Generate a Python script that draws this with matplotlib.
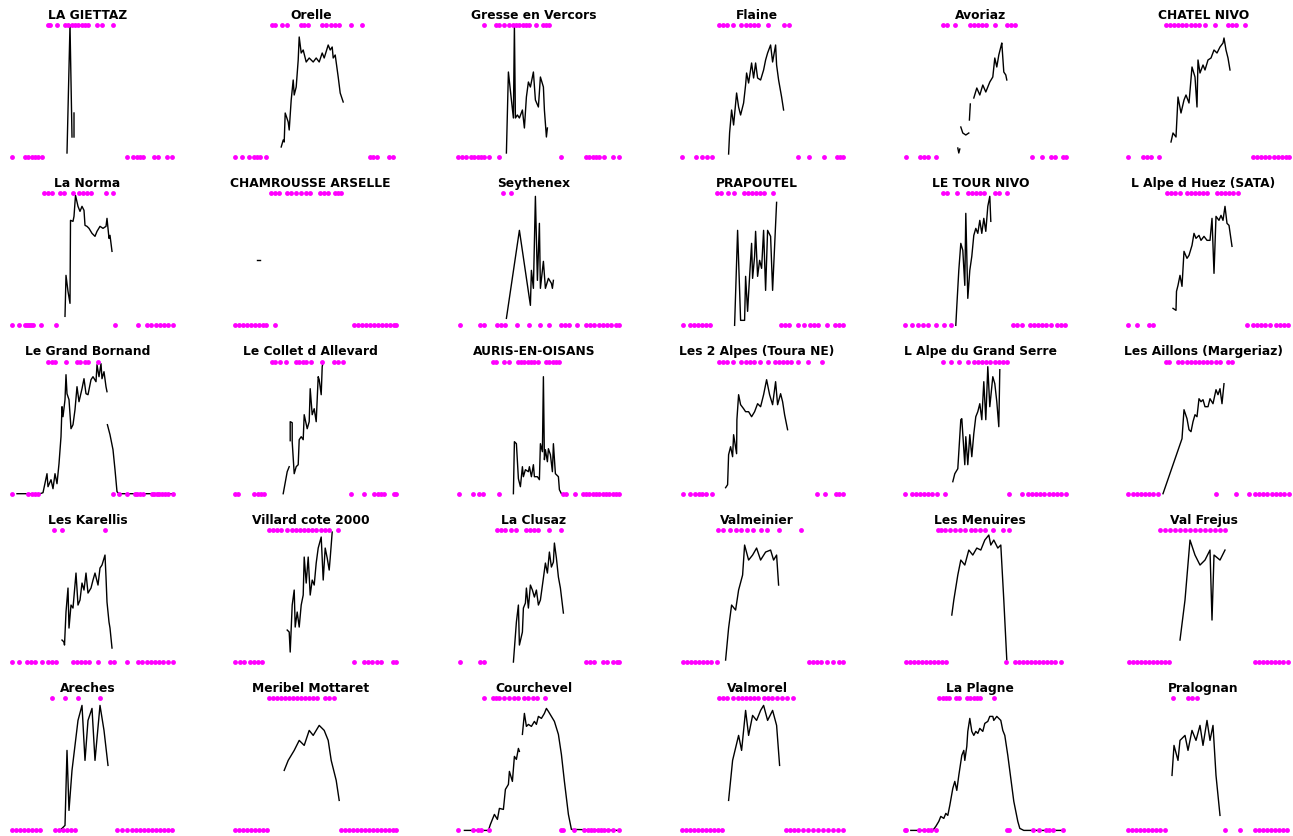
import numpy as np
import matplotlib
matplotlib.use("Agg")
import matplotlib.pyplot as plt

# Snow depth per station: day index in the season, depth value (None = missing),
# days flagged at the top (fall) and days flagged at zero (bare).
giettaz_days = [55, 58, 60, 61, 62, 62]
giettaz_depth = [4, 132, 20, None, 44, 20]
giettaz_fall = [36, 38, 45, 53, 56, 60, 63, 66, 70, 73, 76, 85, 90, 101]
giettaz_bare = [0, 13, 16, 20, 23, 26, 30, 115, 121, 125, 128, 131, 142, 146, 155, 160]

orelle_days = [46, 48, 49, 50, 53, 54, 56, 58, 59, 61, 63, 64, 66, 68, 71, 74, 78, 81, 84, 87, 89, 93, 95, 97, 98, 100, 103, 105, 108]
orelle_depth = [10, 17, 15, 44, 35, 27, 57, 77, 62, 70, 97, 120, 104, 107, 95, 99, 95, 99, 95, 104, 99, 112, 107, 110, 99, 102, 80, 64, 55]
orelle_fall = [37, 40, 47, 52, 66, 69, 73, 87, 91, 96, 100, 104, 116, 127]
orelle_bare = [0, 7, 14, 19, 22, 25, 31, 135, 138, 142, 154, 158]

gresse_days = [48, 50, 53, 55, 56, 57, 59, 61, 64, 66, 68, 70, 72, 75, 77, 80, 82, 85, 86, 88, 89]
gresse_depth = [4, 85, 57, 39, 132, 39, 42, 39, 47, 29, 60, 75, 70, 85, 57, 50, 80, 70, 47, 20, 29]
gresse_fall = [26, 38, 41, 46, 51, 55, 58, 61, 65, 68, 71, 78, 85, 88, 91]
gresse_bare = [0, 4, 8, 13, 16, 20, 23, 26, 31, 41, 103, 128, 131, 135, 138, 141, 146, 155, 161]

flaine_days = [47, 48, 50, 52, 55, 57, 59, 62, 64, 65, 67, 70, 72, 74, 76, 79, 82, 84, 86, 89, 91, 94, 95, 97, 100, 102]
flaine_depth = [3, 24, 47, 32, 64, 50, 42, 54, 72, 84, 74, 94, 79, 94, 79, 77, 87, 97, 104, 112, 95, 112, 92, 77, 60, 47]
flaine_fall = [37, 41, 45, 51, 59, 64, 68, 72, 76, 86, 102, 107]
flaine_bare = [0, 14, 20, 25, 30, 116, 127, 142, 155, 158, 161]

avoriaz_days = [53, 54, 55, 55.5, 56, 58, 61, 64, 64.3, 64.6, 65.5, 66, 69, 72, 75, 78, 81, 85, 88, 90, 92, 94, 96, 97, 99, 101, 102]
avoriaz_depth = [9, 4, 8, None, 30, 24, 22, 24, None, 37, 53, None, 59, 69, 62, 72, 65, 75, 80, 99, 90, 102, 110, 114, 85, 82, 77]
avoriaz_fall = [38, 42, 50, 65, 69, 73, 77, 81, 90, 102, 106, 110]
avoriaz_bare = [1, 15, 19, 23, 31, 127, 137, 146, 150, 158, 161]

chatel_days = [43, 45, 48, 50, 53, 56, 58, 61, 64, 67, 69, 70, 72, 75, 77, 80, 83, 86, 89, 92, 95, 96, 98, 100, 102]
chatel_depth = [15, 24, 20, 60, 44, 57, 62, 54, 90, 80, 50, 97, 84, 92, 87, 97, 99, 107, 104, 110, 114, 119, 107, 99, 87]
chatel_fall = [38, 42, 46, 50, 54, 58, 63, 67, 71, 77, 87, 100, 104, 108, 117]
chatel_bare = [0, 15, 19, 23, 31, 125, 129, 133, 137, 141, 146, 150, 154, 158, 161]

norma_days = [53, 54, 56, 58, 58.5, 61, 62, 63.5, 66, 68, 70, 72, 73, 75, 77, 80, 83, 85, 88, 91, 94, 95, 97, 98, 100]
norma_depth = [9, 50, 34, 22, 105, 104, 109, 130, 119, 114, 119, 115, 100, 99, 97, 92, 89, 94, 99, 97, 99, 107, 87, 90, 74]
norma_fall = [32, 36, 40, 48, 52, 61, 67, 71, 75, 79, 94, 101]
norma_bare = [0, 7, 13, 15, 17, 19, 21, 29, 44, 103, 126, 135, 139, 144, 148, 152, 156, 161]

chamrousse_days = [22, 25]
chamrousse_depth = [65, 65]
chamrousse_fall = [36, 40, 44, 52, 56, 61, 66, 71, 75, 85, 89, 93, 100, 103, 106]
chamrousse_bare = [0, 4, 8, 12, 16, 20, 24, 28, 31, 40, 119, 123, 127, 131, 135, 139, 143, 147, 151, 155, 159, 161]

seythenex_days = [48, 61, 72, 73, 75, 77, 79, 81, 82, 85, 87, 90, 93, 94, 95]
seythenex_depth = [7, 95, 20, 55, 37, 129, 45, 102, 37, 64, 37, 47, 42, 37, 45]
seythenex_fall = [45, 53]
seythenex_bare = [2, 22, 26, 39, 43, 47, 59, 71, 82, 91, 103, 107, 111, 119, 128, 132, 136, 141, 145, 149, 153, 158, 161]

prapoutel_days = [53, 56, 59, 63, 64, 66, 68, 70, 71, 73, 74, 76, 78, 80, 82, 84, 86, 89, 91, 95]
prapoutel_depth = [0, 95, 5, 5, 49, 14, 49, 82, 47, 69, 94, 49, 65, 57, 95, 35, 95, 89, 35, 123]
prapoutel_fall = [35, 39, 46, 52, 62, 66, 70, 74, 78, 82, 91]
prapoutel_bare = [1, 8, 12, 16, 20, 24, 28, 99, 103, 107, 116, 122, 128, 132, 136, 145, 153, 157, 161]

tour_days = [51, 52, 54, 56, 58, 60, 61, 63, 65, 67, 69, 71, 73, 75, 77, 79, 81, 83, 85, 86]
tour_depth = [0, 19, 55, 82, 75, 40, 112, 27, 55, 69, 90, 97, 92, 105, 92, 107, 94, 119, 129, 104]
tour_fall = [38, 42, 52, 63, 67, 71, 75, 79, 90, 94, 102]
tour_bare = [0, 7, 13, 18, 23, 31, 39, 46, 108, 112, 117, 125, 129, 133, 137, 141, 146, 152, 156, 160]

huez_days = [45, 48, 48.5, 50, 52, 54, 56, 59, 61, 64, 66, 68, 71, 73, 76, 79, 82, 84, 86, 88, 91, 93, 95, 97, 99, 101, 104]
huez_depth = [17, 15, 34, 40, 50, 39, 74, 67, 70, 80, 92, 87, 90, 85, 89, 85, 85, 107, 52, 109, 105, 110, 105, 119, 102, 100, 79]
huez_fall = [39, 43, 47, 52, 59, 63, 67, 71, 75, 79, 89, 93, 97, 101, 105, 110]
huez_bare = [0, 9, 21, 25, 119, 125, 129, 133, 137, 142, 148, 152, 156, 160]

bornand_days = [5, 28, 31, 35, 36, 39, 41, 43, 45, 47, 49, 50, 51, 53, 54, 55, 57, 59, 61, 63, 65, 67, 70, 72, 74, 76, 79, 81, 84, 85, 87, 89, 90, 92, 94, 95, 95.2, 95.4, 98, 101, 103, 105, 107, 161]
bornand_depth = [0, 0, 1, 20, 7, 14, 5, 20, 10, 30, 57, 87, 77, 94, 119, 100, 94, 65, 69, 84, 107, 92, 105, 115, 100, 99, 114, 117, 112, 129, 117, 130, 115, 122, 107, 102, None, 69, 59, 44, 24, 2, 0, 0]
bornand_fall = [36, 40, 43, 54, 65, 68, 73, 76, 86]
bornand_bare = [0, 16, 20, 23, 26, 101, 107, 115, 123, 125, 128, 131, 140, 142, 145, 147, 150, 153, 156, 161]

collet_days = [48, 52, 54, 54.5, 55, 55, 57, 57, 59, 61, 63, 64, 66, 68, 69, 72, 74, 75, 77, 79, 81, 83, 84, 86, 87, 88]
collet_depth = [0, 22, 27, None, 53, 72, 71, 52, 20, 27, 29, 54, 57, 54, 79, 65, 72, 105, 79, 85, 72, 117, 114, 99, 127, 132]
collet_fall = [37, 40, 45, 51, 61, 64, 68, 71, 76, 87, 99, 103, 108]
collet_bare = [0, 3, 19, 23, 26, 29, 116, 129, 139, 143, 146, 149, 159, 161]

auris_days = [55, 56, 58, 60, 62, 64, 65, 67, 70, 71, 73, 75, 76, 79, 81, 82, 84, 85, 86, 87, 89, 90, 92, 94, 95, 97, 100, 101, 103]
auris_depth = [0, 52, 50, 15, 7, 27, 17, 24, 22, 27, 17, 29, 17, 17, 14, 50, 42, 117, 34, 44, 32, 45, 39, 22, 50, 20, 17, 4, 0]
auris_fall = [35, 38, 46, 51, 60, 63, 66, 70, 73, 76, 80, 88, 91, 95, 98, 101]
auris_bare = [1, 15, 21, 25, 41, 105, 108, 117, 125, 128, 131, 135, 138, 141, 145, 148, 151, 155, 158, 161]

alpes2_days = [44, 46, 47, 49, 51, 52, 55, 55.3, 57, 59, 62, 64, 67, 70, 73, 76, 79, 82, 85, 88, 91, 94, 96, 99, 101, 103, 106]
alpes2_depth = [6, 9, 39, 47, 37, 59, 40, 74, 99, 89, 85, 82, 82, 77, 82, 90, 87, 99, 114, 99, 89, 112, 89, 100, 92, 79, 64]
alpes2_fall = [37, 41, 45, 51, 59, 64, 68, 72, 78, 86, 93, 97, 101, 105, 109, 116, 126, 140]
alpes2_bare = [1, 8, 13, 17, 20, 24, 30, 135, 143, 154, 157, 161]

serre_days = [48, 50, 53, 56, 57, 60, 61, 63, 65, 67, 69, 71, 73, 75, 77, 79, 81, 83, 85, 88, 90, 92, 94, 95]
serre_depth = [12, 20, 25, 74, 75, 29, 57, 29, 59, 37, 60, 77, 82, 90, 74, 112, 74, 127, 87, 117, 110, 92, 67, 124]
serre_fall = [38, 46, 54, 63, 69, 73, 77, 81, 85, 90, 94, 98, 102]
serre_bare = [0, 7, 11, 15, 19, 23, 27, 32, 40, 104, 117, 123, 127, 131, 135, 139, 144, 148, 152, 156, 161]

aillons_days = [35, 54, 56, 59, 61, 63, 65, 67, 69, 71, 73, 75, 77, 80, 82, 85, 88, 90, 92, 94, 96]
aillons_depth = [0, 55, 84, 75, 64, 62, 72, 79, 77, 95, 92, 94, 87, 87, 95, 90, 104, 99, 105, 90, 110]
aillons_fall = [38, 41, 50, 54, 59, 63, 67, 71, 75, 79, 83, 88, 92, 100, 104]
aillons_bare = [0, 5, 9, 13, 17, 21, 25, 30, 88, 108, 121, 127, 131, 135, 139, 144, 148, 152, 156, 161]

karellis_days = [50, 52, 52.5, 54, 56, 57, 59, 61, 64, 66, 68, 70, 72, 74, 76, 79, 81, 83, 86, 88, 90, 93, 94, 95, 97, 98, 100]
karellis_depth = [22, 20, 17, 50, 74, 34, 57, 54, 89, 57, 62, 79, 72, 89, 69, 74, 82, 89, 77, 94, 97, 107, 85, 60, 40, 34, 14]
karellis_fall = [42, 50, 93]
karellis_bare = [0, 7, 15, 19, 23, 30, 36, 40, 44, 61, 65, 69, 73, 77, 86, 98, 102, 115, 126, 130, 135, 139, 143, 147, 151, 156, 161]

villard_days = [52, 54, 55, 57, 59, 60, 62, 64, 66, 68, 69, 71, 73, 75, 77, 79, 81, 83, 86, 88, 90, 92, 94, 95, 97]
villard_depth = [32, 30, 10, 57, 72, 35, 50, 35, 57, 67, 105, 79, 105, 67, 82, 77, 99, 114, 125, 82, 114, 104, 92, 104, 130]
villard_fall = [34, 38, 42, 46, 52, 57, 61, 65, 69, 73, 77, 81, 86, 90, 94, 103]
villard_bare = [0, 5, 9, 15, 19, 23, 27, 119, 129, 133, 137, 142, 146, 158, 161]

clusaz_days = [55, 58, 60, 61, 64, 65, 67, 68, 70, 72, 74, 76, 78, 80, 82, 85, 87, 89, 91, 93, 95, 96, 98, 100, 102, 105]
clusaz_depth = [0, 40, 57, 17, 30, 54, 59, 74, 54, 77, 72, 65, 72, 57, 62, 84, 99, 89, 110, 95, 100, 119, 104, 85, 74, 49]
clusaz_fall = [39, 43, 47, 53, 58, 68, 72, 76, 80, 91, 103]
clusaz_bare = [2, 22, 26, 128, 132, 136, 145, 149, 155, 159, 161]

valmeinier_days = [44, 47, 50, 54, 57, 61, 63, 67, 71, 75, 79, 84, 89, 92, 95, 97]
valmeinier_depth = [2, 34, 57, 52, 72, 87, 117, 102, 107, 114, 102, 110, 112, 102, 107, 77]
valmeinier_fall = [36, 41, 48, 54, 59, 65, 71, 79, 85, 97, 119]
valmeinier_bare = [1, 5, 9, 13, 17, 21, 25, 29, 35, 127, 131, 135, 139, 145, 151, 157, 161]

menuires_days = [47, 49, 53, 56, 60, 64, 68, 72, 76, 80, 84, 86, 89, 93, 96, 99, 102]
menuires_depth = [47, 62, 87, 102, 97, 112, 107, 114, 112, 122, 127, 117, 122, 114, 117, 62, 2]
menuires_fall = [33, 36, 40, 45, 50, 55, 60, 66, 70, 75, 80, 88, 98, 104]
menuires_bare = [1, 5, 9, 13, 17, 21, 25, 29, 33, 37, 41, 101, 110, 114, 118, 122, 126, 130, 134, 138, 142, 146, 150, 156]

frejus_days = [52, 57, 62, 67, 72, 77, 82, 84, 86, 92, 97]
frejus_depth = [22, 62, 122, 107, 97, 102, 112, 42, 107, 102, 112]
frejus_fall = [32, 37, 42, 47, 52, 57, 62, 67, 72, 77, 82, 87, 92, 97]
frejus_bare = [1, 5, 9, 13, 17, 21, 25, 29, 33, 37, 41, 127, 131, 135, 139, 143, 147, 151, 155, 160]

areches_days = [48, 53, 55, 57, 60, 66, 70, 73, 76, 80, 83, 88, 92, 96]
areches_depth = [0, 5, 80, 20, 60, 110, 125, 70, 110, 122, 70, 125, 100, 65]
areches_fall = [40, 53, 66, 88]
areches_bare = [0, 4, 8, 12, 16, 20, 24, 28, 43, 47, 51, 55, 59, 63, 105, 110, 115, 120, 124, 128, 132, 136, 140, 144, 148, 152, 156, 160]

meribel_days = [49, 53, 59, 64, 69, 74, 78, 84, 89, 93, 96, 101, 104]
meribel_depth = [60, 70, 80, 90, 85, 100, 95, 105, 100, 90, 70, 50, 30]
meribel_fall = [34, 38, 42, 46, 50, 54, 58, 62, 66, 70, 74, 78, 82, 90, 94, 99]
meribel_bare = [0, 4, 8, 12, 16, 20, 24, 28, 32, 106, 110, 114, 118, 122, 126, 130, 134, 138, 142, 146, 150, 154, 158, 161]

courchevel_days = [6, 30, 32, 36, 39, 41, 45, 47, 50, 51, 54, 56, 58, 60, 61, 61.5, 64, 66, 68, 70, 73, 76, 78, 80, 83, 86, 88, 90, 93, 96, 100, 103, 106, 110, 113, 160]
courchevel_depth = [0, 0, 6, 16, 11, 22, 21, 41, 46, 59, 49, 74, 71, 82, 79, None, 96, 117, 104, 106, 104, 109, 106, 114, 112, 117, 122, 119, 114, 109, 96, 76, 49, 16, 1, 0]
courchevel_fall = [26, 35, 38, 41, 46, 51, 56, 60, 66, 70, 75, 79, 87]
courchevel_bare = [0, 15, 20, 23, 31, 103, 105, 116, 126, 130, 133, 136, 140, 143, 146, 150, 155, 161]

valmorel_days = [47, 51, 57, 60, 64, 67, 71, 75, 79, 82, 86, 91, 95, 98]
valmorel_depth = [30, 70, 95, 80, 120, 95, 115, 110, 120, 125, 110, 120, 105, 65]
valmorel_fall = [37, 41, 45, 51, 56, 60, 64, 68, 72, 76, 82, 86, 90, 95, 100, 105, 111]
valmorel_bare = [0, 4, 8, 12, 16, 20, 24, 28, 32, 36, 40, 104, 108, 112, 116, 121, 126, 131, 136, 141, 146, 151, 156, 161]

plagne_days = [6, 28, 31, 34, 36, 39, 41, 43, 45, 48, 50, 52, 54, 57, 59, 60, 62, 63, 65, 67, 69, 71, 73, 75, 78, 80, 83, 85, 88, 89, 92, 94, 96, 98, 100, 103, 106, 109, 113, 115, 119, 158]
plagne_depth = [0, 0, 4, 9, 14, 12, 17, 15, 25, 42, 49, 40, 55, 75, 80, 70, 84, 99, 112, 99, 95, 99, 97, 102, 99, 107, 109, 114, 114, 110, 114, 112, 110, 100, 95, 75, 52, 29, 9, 2, 0, 0]
plagne_fall = [34, 38, 41, 44, 51, 54, 62, 65, 69, 72, 75, 89]
plagne_bare = [0, 1, 14, 19, 23, 26, 31, 102, 104, 128, 134, 141, 144, 148, 158]

pralognan_days = [44, 46, 50, 52, 57, 60, 64, 68, 72, 75, 79, 82, 85, 88, 92]
pralognan_depth = [55, 85, 70, 90, 95, 80, 100, 90, 105, 85, 110, 90, 105, 55, 15]
pralognan_fall = [45, 60, 64, 69]
pralognan_bare = [0, 4, 8, 12, 16, 20, 24, 28, 32, 37, 97, 112, 127, 131, 135, 139, 143, 147, 151, 155, 159]

stations = [
    ("LA GIETTAZ", giettaz_days, giettaz_depth, giettaz_fall, giettaz_bare),
    ("Orelle", orelle_days, orelle_depth, orelle_fall, orelle_bare),
    ("Gresse en Vercors", gresse_days, gresse_depth, gresse_fall, gresse_bare),
    ("Flaine", flaine_days, flaine_depth, flaine_fall, flaine_bare),
    ("Avoriaz", avoriaz_days, avoriaz_depth, avoriaz_fall, avoriaz_bare),
    ("CHATEL NIVO", chatel_days, chatel_depth, chatel_fall, chatel_bare),
    ("La Norma", norma_days, norma_depth, norma_fall, norma_bare),
    ("CHAMROUSSE ARSELLE", chamrousse_days, chamrousse_depth, chamrousse_fall, chamrousse_bare),
    ("Seythenex", seythenex_days, seythenex_depth, seythenex_fall, seythenex_bare),
    ("PRAPOUTEL", prapoutel_days, prapoutel_depth, prapoutel_fall, prapoutel_bare),
    ("LE TOUR NIVO", tour_days, tour_depth, tour_fall, tour_bare),
    ("L Alpe d Huez (SATA)", huez_days, huez_depth, huez_fall, huez_bare),
    ("Le Grand Bornand", bornand_days, bornand_depth, bornand_fall, bornand_bare),
    ("Le Collet d Allevard", collet_days, collet_depth, collet_fall, collet_bare),
    ("AURIS-EN-OISANS", auris_days, auris_depth, auris_fall, auris_bare),
    ("Les 2 Alpes (Toura NE)", alpes2_days, alpes2_depth, alpes2_fall, alpes2_bare),
    ("L Alpe du Grand Serre", serre_days, serre_depth, serre_fall, serre_bare),
    ("Les Aillons (Margeriaz)", aillons_days, aillons_depth, aillons_fall, aillons_bare),
    ("Les Karellis", karellis_days, karellis_depth, karellis_fall, karellis_bare),
    ("Villard cote 2000", villard_days, villard_depth, villard_fall, villard_bare),
    ("La Clusaz", clusaz_days, clusaz_depth, clusaz_fall, clusaz_bare),
    ("Valmeinier", valmeinier_days, valmeinier_depth, valmeinier_fall, valmeinier_bare),
    ("Les Menuires", menuires_days, menuires_depth, menuires_fall, menuires_bare),
    ("Val Frejus", frejus_days, frejus_depth, frejus_fall, frejus_bare),
    ("Areches", areches_days, areches_depth, areches_fall, areches_bare),
    ("Meribel Mottaret", meribel_days, meribel_depth, meribel_fall, meribel_bare),
    ("Courchevel", courchevel_days, courchevel_depth, courchevel_fall, courchevel_bare),
    ("Valmorel", valmorel_days, valmorel_depth, valmorel_fall, valmorel_bare),
    ("La Plagne", plagne_days, plagne_depth, plagne_fall, plagne_bare),
    ("Pralognan", pralognan_days, pralognan_depth, pralognan_fall, pralognan_bare),
]

TOP = 132          # depth level where the flagged days are drawn
N_DAYS = 161

W, H = 1293, 836
fig = plt.figure(figsize=(W / 100, H / 100), dpi=100)

for i, (name, days, depth, fall, bare) in enumerate(stations):
    r, c = divmod(i, 6)
    x0 = 12 + 223.2 * c
    base = 157 + 168.35 * r
    ax = fig.add_axes([(x0 - 10) / W, (H - base) / H, (N_DAYS + 10) / W, TOP / H])
    ax.set_xlim(-10, N_DAYS)
    ax.set_ylim(0, TOP)
    ax.axis("off")

    d = np.array(depth, dtype=float)
    ax.plot(days, d, color="black", lw=1.0, clip_on=False)
    ax.plot(fall, np.full(len(fall), TOP), "o", color="#ff00ff", ms=3.5, mew=0, clip_on=False)
    ax.plot(bare, np.zeros(len(bare)), "o", color="#ff00ff", ms=3.5, mew=0, clip_on=False)
    ax.set_title(name, fontsize=8.8, fontweight="bold", pad=4.5)

fig.savefig("out.png", dpi=100)
